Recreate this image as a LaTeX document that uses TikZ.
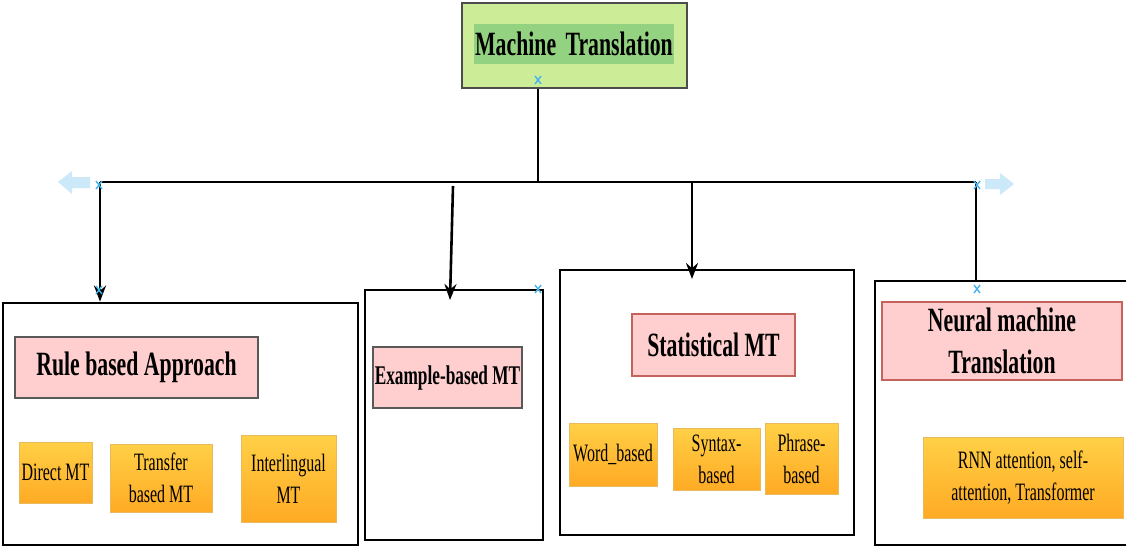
\documentclass[tikz,border=0pt]{standalone}
\usepackage{fontspec}
\setmainfont[FakeStretch=0.64]{Liberation Serif}
\usetikzlibrary{arrows.meta}

\definecolor{mtgreen}{RGB}{204,236,152}
\definecolor{mtgreendark}{RGB}{146,210,128}
\definecolor{labelpink}{RGB}{255,206,206}
\definecolor{pinkred}{RGB}{196,98,92}
\definecolor{orangetop}{RGB}{255,208,70}
\definecolor{orangebot}{RGB}{255,170,36}
\definecolor{orangeedge}{RGB}{232,186,96}
\definecolor{hintblue}{RGB}{204,233,250}
\definecolor{markblue}{RGB}{70,180,235}

\tikzset{
  wire/.style={line width=2.6pt, black},
  arr/.style={wire, -{Stealth[length=16pt,width=12pt]}},
  groupbox/.style={draw=black, line width=2.8pt, fill=white, inner sep=0pt},
  headfont/.style={font=\bfseries\fontsize{34}{42}\selectfont},
  subfont/.style={font=\bfseries\fontsize{27}{32}\selectfont},
  leaffont/.style={font=\fontsize{25}{32}\selectfont},
  pinkgray/.style={draw=black!65, line width=1.3pt, fill=labelpink, inner sep=0pt, align=center},
  pinkred/.style={draw=pinkred, line width=1.3pt, fill=labelpink, inner sep=0pt, align=center},
  leaf/.style={draw=orangeedge, line width=1pt, top color=orangetop, bottom color=orangebot,
    inner sep=0pt, align=center, leaffont},
  marker/.style={draw=markblue, line width=1.4pt},
}

\begin{document}
\begin{tikzpicture}[x=1pt, y=-1pt]
  \clip (0,0) rectangle (1126,547);
  \fill[white] (0,0) rectangle (1126,547);

  % root
  \node[draw=black!70, line width=1.5pt, fill=mtgreen, minimum width=225pt, minimum height=85pt,
        inner sep=0pt] (root) at (574.5,45.5) {};
  \node[fill=mtgreendark, minimum width=200pt, minimum height=40pt, inner sep=0pt,
        headfont] (roottxt) at (574,44) {Machine\hspace{4pt} Translation};

  % group frames
  \node[groupbox, minimum width=355pt, minimum height=242pt] (rule) at (180.5,424) {};
  \node[groupbox, minimum width=178pt, minimum height=250pt] (example) at (454,415) {};
  \node[groupbox, minimum width=294pt, minimum height=265pt] (stat) at (707,402.5) {};
  \node[groupbox, minimum width=262pt, minimum height=264pt] (neural) at (1006,413) {};

  % group titles
  \node[pinkgray, headfont, minimum width=243pt, minimum height=61pt] (ruletitle) at (136.5,367.5) {Rule based Approach};
  \node[pinkgray, subfont, minimum width=149pt, minimum height=61pt] (exampletitle) at (447.5,377.5) {Example-based MT};
  \node[pinkred, headfont, minimum width=163pt, minimum height=62pt] (stattitle) at (713.5,345) {Statistical MT};
  \node[pinkred, headfont, minimum width=240pt, minimum height=78pt] (neuraltitle) at (1002,341) {Neural machine\\Translation};

  % leaves
  \node[leaf, minimum width=73pt, minimum height=61pt] (direct) at (55.5,472.5) {Direct MT};
  \node[leaf, minimum width=102pt, minimum height=68pt] (transfer) at (161,478) {Transfer\\based MT};
  \node[leaf, minimum width=95pt, minimum height=87pt] (inter) at (288.5,478.5) {Interlingual\\MT};
  \node[leaf, minimum width=88pt, minimum height=63pt] (word) at (613,454.5) {Word\_based};
  \node[leaf, minimum width=87pt, minimum height=62pt] (syntax) at (716.5,459) {Syntax-\\based};
  \node[leaf, minimum width=73pt, minimum height=71pt] (phrase) at (801.5,458.5) {Phrase-\\based};
  \node[leaf, minimum width=200pt, minimum height=81pt] (rnn) at (1023,477.5) {RNN attention, self-\\attention, Transformer};

  % bus points
  \coordinate (busL) at (100,182);
  \coordinate (busM) at (538,182);
  \coordinate (busR) at (976,182);
  \coordinate (busS) at (692,182);
  \coordinate (exStart) at (453,186);
  \coordinate (exTip) at (450,300);
  \coordinate (statTip) at (692,279);

  % connectors
  \draw[wire] (root.south -| busM) -- (busM);
  \draw[wire] (busL) -- (busR);
  \draw[arr] (busL) -- (busL |- rule.north);
  \draw[arr] (exStart) -- (exTip);
  \draw[arr] (busS) -- (statTip);
  \draw[wire] (busR) -- (busR |- neural.north);

  % faint direction hints at the bus ends
  \fill[hintblue] (58,182) -- (72,171) -- (72,177) -- (90,177) -- (90,188) -- (72,188) -- (72,194) -- cycle;
  \fill[hintblue] (1014,184) -- (1000,173) -- (1000,179) -- (985,179) -- (985,189) -- (1000,189) -- (1000,195) -- cycle;

  % connection handles
  \foreach \p in {(538,80),(99,185),(99,290),(977,185),(977,289),(538,289)} {
    \draw[marker] \p ++(-3,-4) -- ++(6,8);
    \draw[marker] \p ++(3,-4) -- ++(-6,8);
  }
\end{tikzpicture}
\end{document}
